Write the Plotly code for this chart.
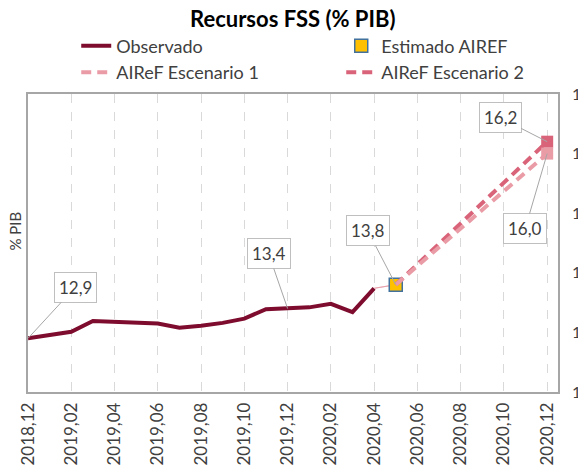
import plotly.graph_objects as go

months = ["2018,12", "2019,01", "2019,02", "2019,03", "2019,04", "2019,05", "2019,06",
          "2019,07", "2019,08", "2019,09", "2019,10", "2019,11", "2019,12",
          "2020,01", "2020,02", "2020,03", "2020,04", "2020,05", "2020,06", "2020,07",
          "2020,08", "2020,09", "2020,10", "2020,11", "2020,12"]

observado = [12.90, 12.96, 13.01, 13.19, 13.18, 13.17, 13.15, 13.08, 13.11, 13.16,
             13.23, 13.39, 13.40, 13.42, 13.48, 13.34, 13.74]
obs_months = months[:len(observado)]

estimado_month = ["2020,05"]
estimado = [13.8]

esc_months = ["2020,05", "2020,12"]
escenario1 = [13.8, 16.0]
escenario2 = [13.8, 16.2]

tick_months = months[::2]
y_ticks = [12, 13, 14, 15, 16, 17]

FONT = "Lato"
TXT = "#404040"
C_OBS = "#7E0C2E"
C_EST = "#FFC000"
C_E1 = "#EA9CA6"
C_E2 = "#D9647A"

fig = go.Figure()

fig.add_trace(go.Scatter(x=obs_months, y=observado, mode="lines", name="Observado",
                         line=dict(color=C_OBS, width=4), legendrank=1))

# thin connectors between last observed value and estimate
for c in (C_E2, C_E1):
    fig.add_trace(go.Scatter(x=[obs_months[-1], estimado_month[0]], y=[observado[-1], estimado[0]],
                             mode="lines", line=dict(color=c, width=1), opacity=0.6,
                             showlegend=False, hoverinfo="skip"))

fig.add_trace(go.Scatter(x=estimado_month, y=estimado, mode="markers", name="Estimado AIREF",
                         marker=dict(symbol="square", size=13, color=C_EST,
                                     line=dict(color="#41719C", width=1.5)), legendrank=2))

fig.add_trace(go.Scatter(x=esc_months, y=escenario2, mode="lines", name="AIReF Escenario 2",
                         line=dict(color=C_E2, width=4, dash="10px,6px"), legendrank=4))
fig.add_trace(go.Scatter(x=esc_months, y=escenario1, mode="lines", name="AIReF Escenario 1",
                         line=dict(color=C_E1, width=4, dash="10px,6px"), legendrank=3))
fig.add_trace(go.Scatter(x=esc_months[-1:], y=escenario2[-1:], mode="markers", showlegend=False,
                         marker=dict(symbol="square", size=12, color=C_E2)))
fig.add_trace(go.Scatter(x=esc_months[-1:], y=escenario1[-1:], mode="markers", showlegend=False,
                         marker=dict(symbol="square", size=12, color=C_E1)))

labels = [
    (obs_months[0], observado[0], 47, -51),
    (obs_months[12], observado[12], -19, -55),
    (estimado_month[0], estimado[0], -28, -54),
    (esc_months[-1], escenario2[-1], -47, -24),
    (esc_months[-1], escenario1[-1], -22, 75),
]
for x, y, ax, ay in labels:
    fig.add_annotation(x=x, y=y, ax=ax, ay=ay, text=f"{y:.1f}".replace(".", ","),
                       showarrow=True, arrowhead=0, arrowwidth=1, arrowcolor="#A6A6A6",
                       bordercolor="#BFBFBF", borderwidth=1, borderpad=4, bgcolor="white",
                       font=dict(family=FONT, size=17, color=TXT))

fig.add_annotation(xref="paper", yref="paper", x=-0.0236, y=0.54, xanchor="center", yanchor="middle",
                   text="% PIB", textangle=-90,
                   showarrow=False, font=dict(family=FONT, size=15, color=TXT))

fig.update_layout(
    width=586, height=469,
    margin=dict(l=20, r=36, t=86, b=85, autoexpand=False),
    paper_bgcolor="white", plot_bgcolor="white",
    font=dict(family=FONT, size=16, color=TXT),
    title=dict(text="<b>Recursos FSS (% PIB)</b>", x=0.486, xanchor="center", y=0.975, yanchor="middle",
               font=dict(family=FONT, size=22, color="black")),
    legend=dict(orientation="h", x=0.091, xanchor="left", y=1.223, yanchor="top",
                entrywidth=220, font=dict(family=FONT, size=18, color=TXT),
                bgcolor="rgba(0,0,0,0)"),
    showlegend=True,
)

fig.update_xaxes(type="category", categoryorder="array", categoryarray=months,
                 range=[0, 24.5], tickmode="array", tickvals=tick_months, ticktext=tick_months,
                 tickangle=-90, tickfont=dict(family=FONT, size=17, color=TXT), ticklabelstandoff=2,
                 showgrid=True, gridcolor="#D9D9D9", griddash="dash", gridwidth=1,
                 showline=True, linecolor="#A6A6A6", linewidth=1.5, mirror=True,
                 ticks="", zeroline=False, automargin=False)
fig.update_yaxes(range=[12, 17], side="right", tickmode="array", tickvals=y_ticks,
                 tickfont=dict(family=FONT, size=16, color=TXT), ticklabelstandoff=9,
                 ticklabeloverflow="allow",
                 showgrid=False, showline=True, linecolor="#A6A6A6", linewidth=1.5, mirror=True,
                 ticks="", zeroline=False, automargin=False)

fig.write_html("out.html")
